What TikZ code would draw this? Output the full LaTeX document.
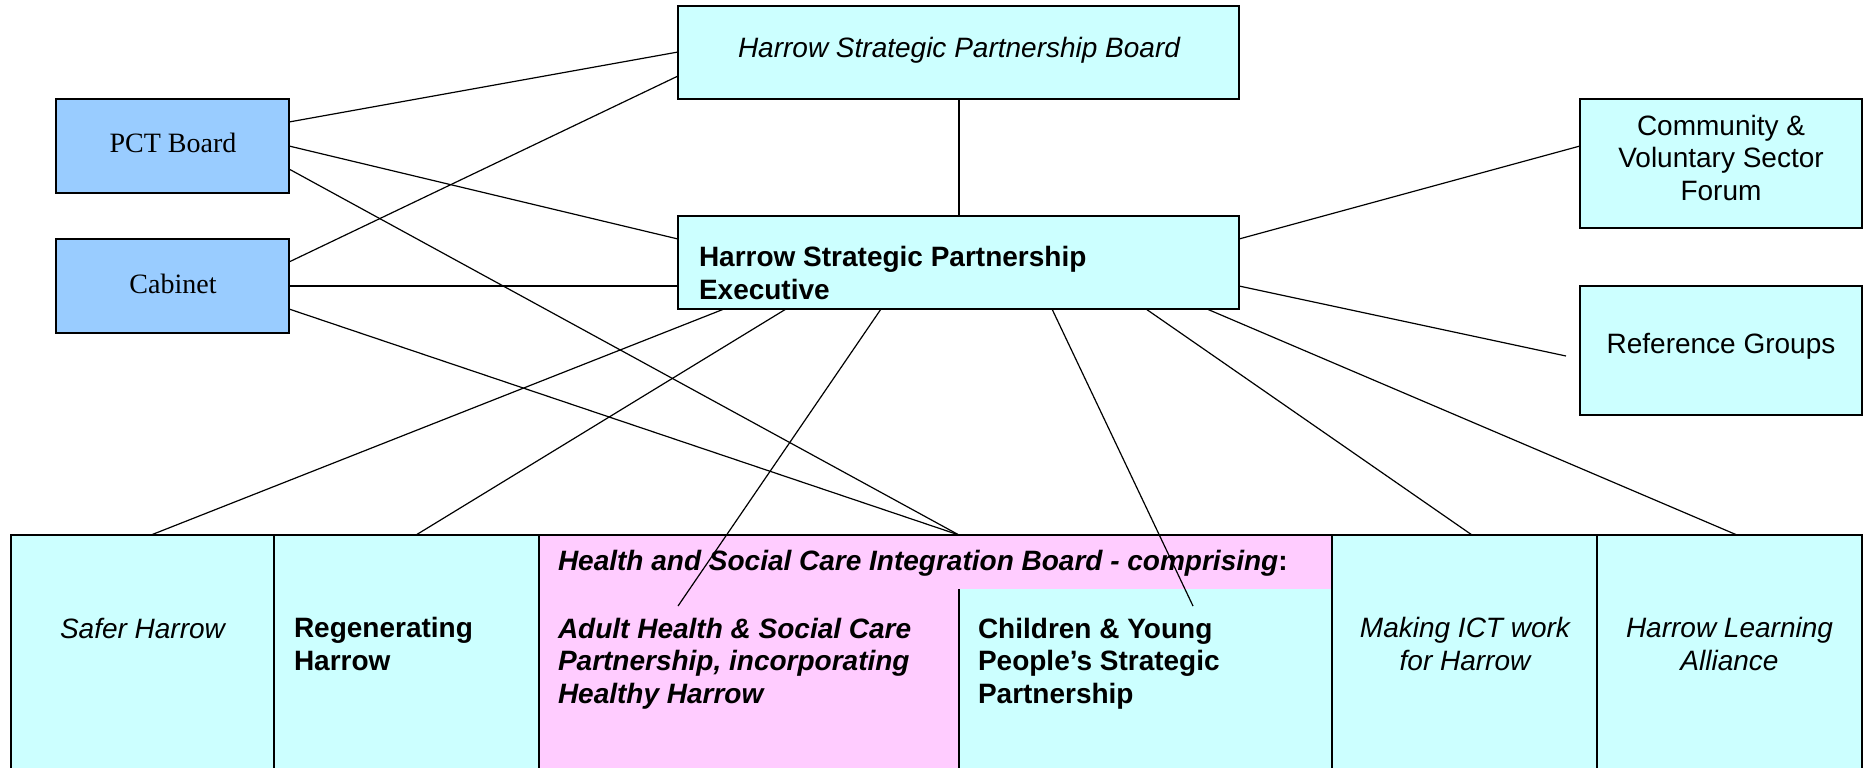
\documentclass[tikz,border=0pt]{standalone}
\usepackage{fontspec}
\setmainfont{Liberation Sans}
\newfontfamily\serifTNR{Liberation Serif}
\usetikzlibrary{calc}
\definecolor{cyanbox}{HTML}{CCFFFF}
\definecolor{bluebox}{HTML}{99CCFF}
\definecolor{pinkbox}{HTML}{FFCCFF}
\newcommand{\fsz}{\fontsize{14}{16.2}\selectfont}
\begin{document}
\begin{tikzpicture}[x=0.5pt,y=-0.5pt,
  box/.style={draw=black, line width=0.9pt, inner sep=0pt, outer sep=0pt, anchor=north west},
  cbox/.style={box, fill=cyanbox},
  bbox/.style={box, fill=bluebox},
  lbl/.style={inner sep=0pt, outer sep=0pt, font=\fsz},
  conn/.style={line width=0.6pt}]
\useasboundingbox[fill=white] (0,0) rectangle (1863,767);

% upper boxes
\node[cbox, minimum width=280.5pt, minimum height=46.5pt] (board) at (678,6) {};
\node[bbox, minimum width=116.5pt, minimum height=47pt] (pct) at (56,99) {};
\node[bbox, minimum width=116.5pt, minimum height=47pt] (cab) at (56,239) {};
\node[cbox, minimum width=280.5pt, minimum height=46.5pt] (exec) at (678,216) {};
\node[cbox, minimum width=141pt, minimum height=64.5pt] (comm) at (1580,99) {};
\node[cbox, minimum width=141pt, minimum height=64.5pt] (ref) at (1580,286) {};

% bottom row
\node[cbox, minimum width=131.5pt, minimum height=122.5pt] (safer) at (11,535) {};
\node[cbox, minimum width=132.5pt, minimum height=122.5pt] (regen) at (274,535) {};
\node[box, fill=pinkbox, minimum width=396.5pt, minimum height=122.5pt] (hsc) at (539,535) {};
\node[box, draw=none, fill=cyanbox, minimum width=186.5pt, minimum height=95.5pt] (cyp) at (959,589) {};
\draw[line width=0.9pt] (cyp.north west) -- (cyp.south west);
\node[cbox, minimum width=132.5pt, minimum height=122.5pt] (ict) at (1332,535) {};
\node[cbox, minimum width=132.5pt, minimum height=122.5pt] (hla) at (1597,535) {};

% texts (base anchor = baseline of the last line)
\node[lbl, anchor=base, font=\fsz\itshape] (tboard) at (959,57) {Harrow Strategic Partnership Board};
\node[lbl, anchor=base, font=\fsz\serifTNR] (tpct) at (173,152) {PCT Board};
\node[lbl, anchor=base, font=\fsz\serifTNR] (tcab) at (173,293) {Cabinet};
\node[lbl, anchor=base west, align=left, font=\fsz\bfseries] (texec) at (699,299) {Harrow Strategic Partnership\\Executive};
\node[lbl, anchor=base, align=center] (tcomm) at (1721,200) {Community \&\\Voluntary Sector\\Forum};
\node[lbl, anchor=base] (tref) at (1721,353) {Reference Groups};
\node[lbl, anchor=base, font=\fsz\itshape] (tsafer) at (142.5,638) {Safer Harrow};
\node[lbl, anchor=base west, align=left, font=\fsz\bfseries] (tregen) at (294,670) {Regenerating\\Harrow};
\node[lbl, anchor=base west, font=\fsz\bfseries] (thsc) at (558,570) {\itshape Health and Social Care Integration Board - comprising\upshape:};
\node[lbl, anchor=base west, align=left, font=\fsz\bfseries\itshape] (tadult) at (558,703) {Adult Health \& Social Care\\Partnership, incorporating\\Healthy Harrow};
\node[lbl, anchor=base west, align=left, font=\fsz\bfseries] (tcyp) at (978,703) {Children \& Young\\People’s Strategic\\Partnership};
\node[lbl, anchor=base, align=center, font=\fsz\itshape] (tict) at (1465,670) {Making ICT work\\for Harrow};
\node[lbl, anchor=base, align=center, font=\fsz\itshape] (thla) at (1729.5,670) {Harrow Learning\\Alliance};

% free ends
\coordinate (refend) at (1566,356);
\coordinate (adultend) at (678,606);
\coordinate (cypend) at (1193,606);

% connectors
\draw[conn] ($(pct.north east)+(0,23)$) -- ($(board.north west)+(0,46)$);
\draw[conn] ($(cab.north east)+(0,23)$) -- ($(board.north west)+(0,70)$);
\draw[conn] ($(pct.north east)+(0,47)$) -- ($(exec.north west)+(0,23)$);
\draw[conn] ($(pct.north east)+(0,70)$) -- ($(hsc.north west)+(420,0)$);
\draw[conn] ($(cab.north east)+(0,47)$) -- ($(exec.north west)+(0,70)$);
\draw[conn] ($(cab.north east)+(0,70)$) -- ($(hsc.north west)+(420,0)$);
\draw[conn] ($(board.south west)+(281,0)$) -- ($(exec.north west)+(281,0)$);
\draw[conn] ($(exec.north east)+(0,23)$) -- ($(comm.north west)+(0,47)$);
\draw[conn] ($(exec.north east)+(0,70)$) -- (refend);
\draw[conn] ($(exec.south west)+(46,0)$) -- ($(safer.north west)+(140,0)$);
\draw[conn] ($(exec.south west)+(108,0)$) -- ($(regen.north west)+(142,0)$);
\draw[conn] ($(exec.south west)+(203,0)$) -- (adultend);
\draw[conn] ($(exec.south west)+(374,0)$) -- (cypend);
\draw[conn] ($(exec.south west)+(468,0)$) -- ($(ict.north west)+(140,0)$);
\draw[conn] ($(exec.south west)+(529,0)$) -- ($(hla.north west)+(140,0)$);
\end{tikzpicture}
\end{document}
